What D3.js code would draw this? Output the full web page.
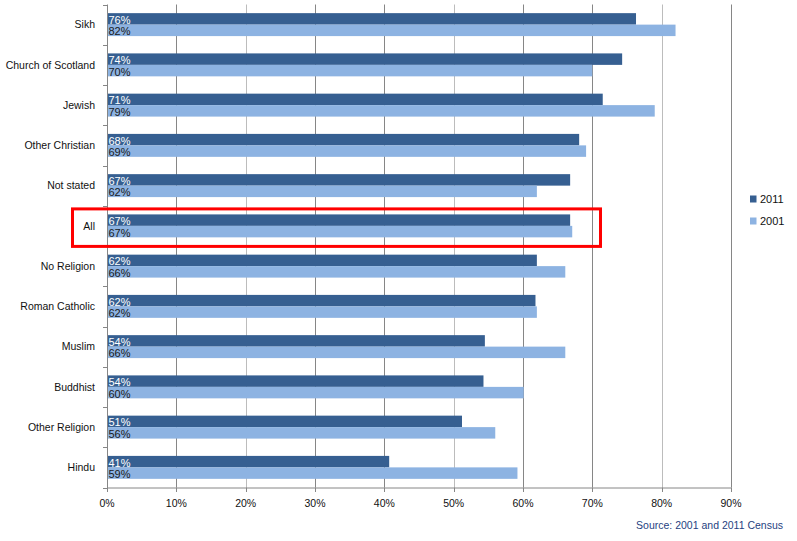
<!DOCTYPE html>
<html>
<head>
<meta charset="utf-8">
<script src="https://cdn.jsdelivr.net/npm/d3@7"></script>
<style>
  body { margin: 0; background: #fff; }
  svg text { font-family: "Liberation Sans", Arial, sans-serif; }
</style>
</head>
<body>
<script>
// Chart data
const categories = ['Sikh', 'Church of Scotland', 'Jewish', 'Other Christian', 'Not stated', 'All',
  'No Religion', 'Roman Catholic', 'Muslim', 'Buddhist', 'Other Religion', 'Hindu'];
const series = ['2011', '2001'];
const values2011 = [76.3, 74.3, 71.5, 68.1, 66.8, 66.8, 62.0, 61.8, 54.5, 54.3, 51.2, 40.7];
const values2001 = [82.0, 70.0, 79.0, 69.1, 62.0, 67.1, 66.1, 62.0, 66.1, 60.1, 56.0, 59.2];
const labels2011 = ['76%', '74%', '71%', '68%', '67%', '67%', '62%', '62%', '54%', '54%', '51%', '41%'];
const labels2001 = ['82%', '70%', '79%', '69%', '62%', '67%', '66%', '62%', '66%', '60%', '56%', '59%'];
const xTicks = [0, 10, 20, 30, 40, 50, 60, 70, 80, 90];
const highlighted = 'All';

const colors = { '2011': '#365f91', '2001': '#8db3e2' };
const labelColors = { '2011': '#ffffff', '2001': '#1a1a1a' };

const width = 797, height = 541;
const plot = { left: 107, right: 731, top: 4.5, bottom: 487.5 };

const svg = d3.select('body').append('svg')
  .attr('width', width)
  .attr('height', height);

const x = d3.scaleLinear().domain([0, 90]).range([plot.left, plot.right]);

const y0 = d3.scaleBand()
  .domain(categories)
  .range([plot.top, plot.bottom])
  .paddingInner(0.43)
  .paddingOuter(0.215);

const y1 = d3.scaleBand()
  .domain(series)
  .range([0, y0.bandwidth()]);

const rows = categories.map((c, i) => ({
  category: c,
  bars: [
    { key: '2011', value: values2011[i], label: labels2011[i] },
    { key: '2001', value: values2001[i], label: labels2001[i] }
  ]
}));

// gridlines (the picture has a mix of darker and lighter lines)
svg.append('g').selectAll('line')
  .data(xTicks.slice(1))
  .enter().append('line')
  .attr('x1', d => Math.round(x(d)) + 0.5)
  .attr('x2', d => Math.round(x(d)) + 0.5)
  .attr('y1', plot.top)
  .attr('y2', plot.bottom)
  .attr('stroke', d => (d % 30 === 20) ? '#bcbcbc' : '#868686')
  .attr('stroke-width', 1);

// bars
const groups = svg.append('g').selectAll('g')
  .data(rows)
  .enter().append('g')
  .attr('transform', d => 'translate(0,' + y0(d.category) + ')');

groups.selectAll('rect')
  .data(d => d.bars)
  .enter().append('rect')
  .attr('x', x(0))
  .attr('y', d => y1(d.key))
  .attr('width', d => x(d.value) - x(0))
  .attr('height', y1.bandwidth())
  .attr('fill', d => colors[d.key]);

groups.selectAll('text')
  .data(d => d.bars)
  .enter().append('text')
  .attr('x', x(0) + 1.5)
  .attr('y', d => y1(d.key) + y1.bandwidth() - 0.8)
  .attr('font-size', '11px')
  .attr('fill', d => labelColors[d.key])
  .text(d => d.label);

// y axis
const yAxis = svg.append('g');
yAxis.append('line')
  .attr('x1', plot.left + 0.5).attr('x2', plot.left + 0.5)
  .attr('y1', plot.top).attr('y2', plot.bottom + 0.5)
  .attr('stroke', '#868686');
yAxis.selectAll('line.tick')
  .data(d3.range(categories.length + 1))
  .enter().append('line')
  .attr('class', 'tick')
  .attr('x1', plot.left - 4).attr('x2', plot.left)
  .attr('y1', i => Math.round(plot.top + i * y0.step()) + 0.5)
  .attr('y2', i => Math.round(plot.top + i * y0.step()) + 0.5)
  .attr('stroke', '#868686');
yAxis.selectAll('text')
  .data(categories)
  .enter().append('text')
  .attr('x', 95)
  .attr('y', d => y0(d) + y0.bandwidth() / 2)
  .attr('dy', '0.35em')
  .attr('text-anchor', 'end')
  .attr('font-size', '10.5px')
  .attr('fill', '#111')
  .text(d => d);

// x axis
const xAxis = svg.append('g');
xAxis.append('line')
  .attr('x1', plot.left).attr('x2', plot.right + 0.5)
  .attr('y1', plot.bottom + 0.5).attr('y2', plot.bottom + 0.5)
  .attr('stroke', '#868686');
xAxis.selectAll('line.tick')
  .data(xTicks)
  .enter().append('line')
  .attr('class', 'tick')
  .attr('x1', d => Math.round(x(d)) + 0.5)
  .attr('x2', d => Math.round(x(d)) + 0.5)
  .attr('y1', plot.bottom)
  .attr('y2', plot.bottom + 4.5)
  .attr('stroke', '#868686');
xAxis.selectAll('text')
  .data(xTicks)
  .enter().append('text')
  .attr('x', d => x(d))
  .attr('y', 506.5)
  .attr('text-anchor', 'middle')
  .attr('font-size', '10.5px')
  .attr('fill', '#111')
  .text(d => d + '%');

// legend
const legend = svg.append('g').selectAll('g')
  .data(series)
  .enter().append('g')
  .attr('transform', (d, i) => 'translate(750,' + (195.5 + i * 22) + ')');
legend.append('rect')
  .attr('width', 6.5).attr('height', 7)
  .attr('fill', d => colors[d]);
legend.append('text')
  .attr('x', 10).attr('y', 7.5)
  .attr('font-size', '11px')
  .attr('fill', '#111')
  .text(d => d);

// highlight box round the "All" row
svg.append('rect')
  .attr('x', 72.5)
  .attr('y', y0(highlighted) - 5.5)
  .attr('width', 528)
  .attr('height', 37.5)
  .attr('fill', 'none')
  .attr('stroke', '#ff0000')
  .attr('stroke-width', 3);

// source note
svg.append('text')
  .attr('x', 783)
  .attr('y', 529)
  .attr('text-anchor', 'end')
  .attr('font-size', '10.5px')
  .attr('fill', '#1f3f7f')
  .text('Source: 2001 and 2011 Census');
</script>
</body>
</html>
